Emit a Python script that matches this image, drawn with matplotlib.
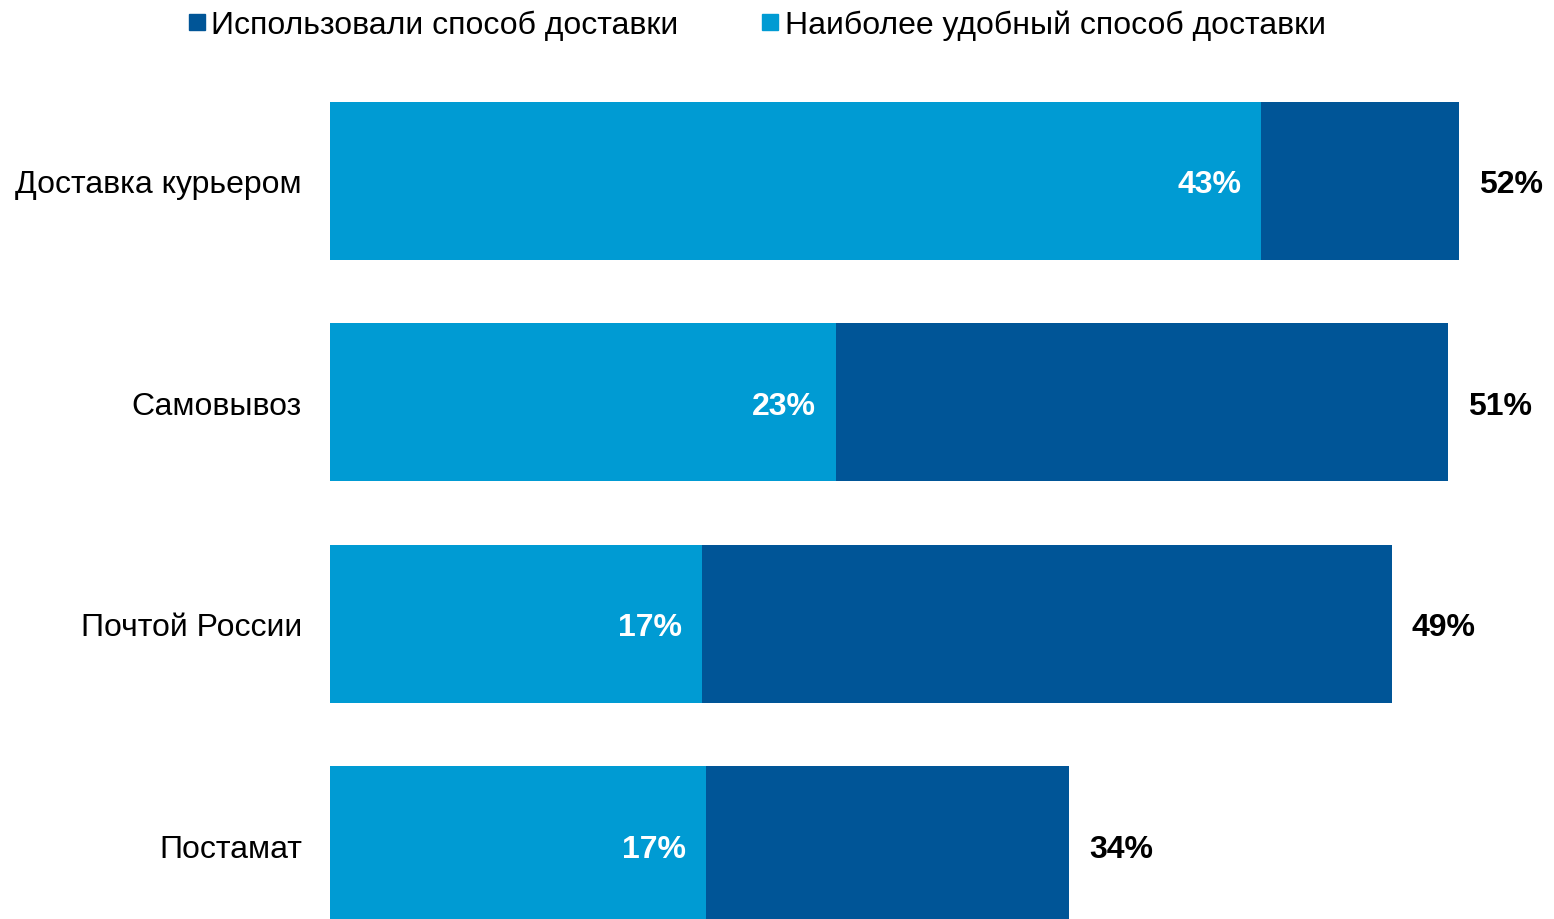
import matplotlib
matplotlib.use("Agg")
import matplotlib.pyplot as plt
from matplotlib.lines import Line2D

plt.rcParams['font.family'] = ['Liberation Sans', 'DejaVu Sans']

categories = ["Доставка курьером", "Самовывоз", "Почтой России", "Постамат"]
used = [52.0, 51.5, 48.9, 34.05]
used_labels = ["52%", "51%", "49%", "34%"]
convenient = [42.9, 23.3, 17.15, 17.3]
conv_labels = ["43%", "23%", "17%", "17%"]
legend_labels = ["Использовали способ доставки", "Наиболее удобный способ доставки"]

DARK = "#005597"
LIGHT = "#009BD3"
FS = 23

W, H = 1554, 920
fig = plt.figure(figsize=(W / 100, H / 100), dpi=100)
px_per = 21.71
xmax = 55
ax = fig.add_axes([330 / W, 0, xmax * px_per / W, 850 / H])
ax.set_xlim(0, xmax)
ax.set_ylim(3.333, -0.504)

ypos = list(range(len(categories)))
bh = 0.713
b1 = ax.barh(ypos, used, height=bh, color=DARK, zorder=1)
b2 = ax.barh(ypos, convenient, height=bh, color=LIGHT, zorder=2)
for p in list(b1) + list(b2):
    p.set_clip_on(False)

off = 20 / px_per
for y, u, ul, c, cl in zip(ypos, used, used_labels, convenient, conv_labels):
    ax.text(c - off, y, cl, ha='right', va='center_baseline', color='white',
            fontsize=FS, fontweight='bold', zorder=3)
    ax.text(u + off, y, ul, ha='left', va='center_baseline', color='black',
            fontsize=FS, fontweight='bold', zorder=3, clip_on=False)
    ax.text(-28 / px_per, y, categories[y], ha='right', va='center_baseline', color='black',
            fontsize=FS, clip_on=False)

ax.set_axis_off()

handles = [Line2D([], [], marker='s', linestyle='none', markersize=12, color=DARK),
           Line2D([], [], marker='s', linestyle='none', markersize=12, color=LIGHT)]
fig.legend(handles, legend_labels, loc='center', bbox_to_anchor=(757 / W, 1 - 26 / H),
           ncol=2, frameon=False, fontsize=FS, handletextpad=0.19,
           columnspacing=2.6, handlelength=0.53, borderaxespad=0)

fig.savefig("out.png", dpi=100)
